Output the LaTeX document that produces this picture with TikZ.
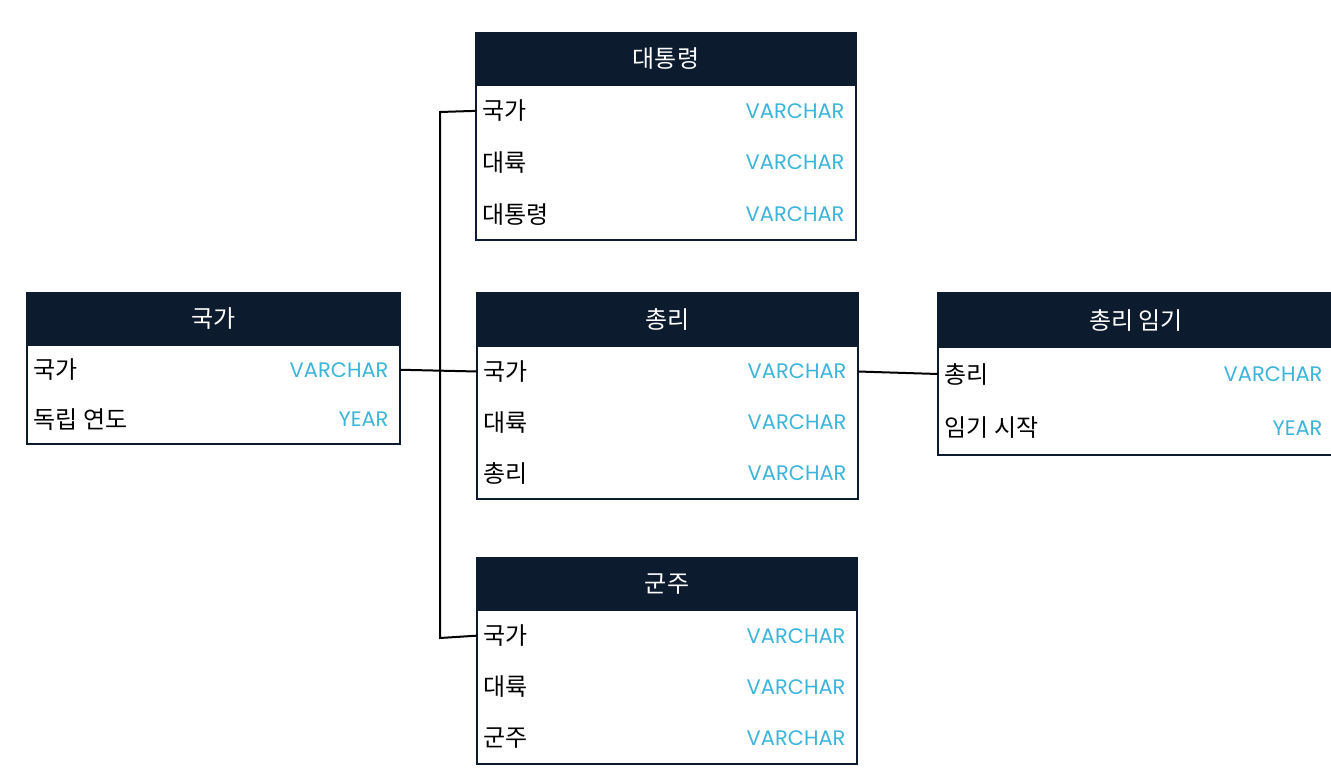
\documentclass[tikz,border=0pt]{standalone}
\usepackage{fontspec}
\setmainfont{Noto Sans CJK KR}
\newfontfamily\typefont{Poppins}
\definecolor{hdr}{HTML}{0D1B2E}
\definecolor{typ}{HTML}{3DB5DA}
\begin{document}
\begin{tikzpicture}[x=1pt,y=-1pt,
  hd/.style={fill=hdr,draw=hdr,line width=1.5pt},
  bx/.style={draw=hdr,line width=1.5pt,fill=white},
  ht/.style={text=white,font=\fontsize{24}{28}\selectfont},
  ft/.style={anchor=west,font=\fontsize{24}{28}\selectfont,text=black},
  tt/.style={anchor=east,font=\typefont\fontsize{21}{26}\selectfont,text=typ},
  ln/.style={draw=black,line width=2pt}]
\useasboundingbox (0,0) rectangle (1331,784);
% macro: name, x1, x2, ytop, yhead, rowh, title, rows
\newcommand\erdtab[8]{%
  \foreach \f/\t [count=\i] in {#8}{\pgfmathsetmacro\nr{\i}\xdef\nrows{\nr}}%
  \pgfmathsetmacro\ybot{#5+\nrows*#6}%
  \draw[bx] (#2,#4) rectangle (#3,\ybot);
  \draw[hd] (#2,#4) rectangle (#3,#5);
  \node[ht] (#1-h) at ({(#2+#3)/2},{(#4+#5)/2}) {#7};
  \foreach \f/\t [count=\i] in {#8}{%
    \pgfmathsetmacro\yc{#5+(\i-0.5)*#6}
    \node[ft] (#1-f\i) at (#2+3,\yc) {\f};
    \node[tt] (#1-t\i) at (#3-8,\yc) {\t};
    \coordinate (#1-l\i) at (#2,\yc);
    \coordinate (#1-r\i) at (#3,\yc);
  }}
\erdtab{pres}{476}{856}{33}{85}{51.7}{대통령}{국가/VARCHAR,대륙/VARCHAR,대통령/VARCHAR}
\erdtab{nat}{27}{400}{293}{345}{49.5}{국가}{국가/VARCHAR,독립 연도/YEAR}
\erdtab{pm}{477}{858}{293}{346}{51}{총리}{국가/VARCHAR,대륙/VARCHAR,총리/VARCHAR}
\erdtab{term}{938}{1334}{293}{347}{54}{총리 임기}{총리/VARCHAR,임기 시작/YEAR}
\erdtab{mon}{477}{857}{558}{610}{51.3}{군주}{국가/VARCHAR,대륙/VARCHAR,군주/VARCHAR}
\coordinate (j1) at (440,112);
\coordinate (j3) at (440,638);
\draw[ln] (nat-r1) -- (pm-l1);
\draw[ln] (pres-l1) -- (j1) -- (j3) -- (mon-l1);
\draw[ln] (pm-r1) -- (term-l1);
\end{tikzpicture}
\end{document}
